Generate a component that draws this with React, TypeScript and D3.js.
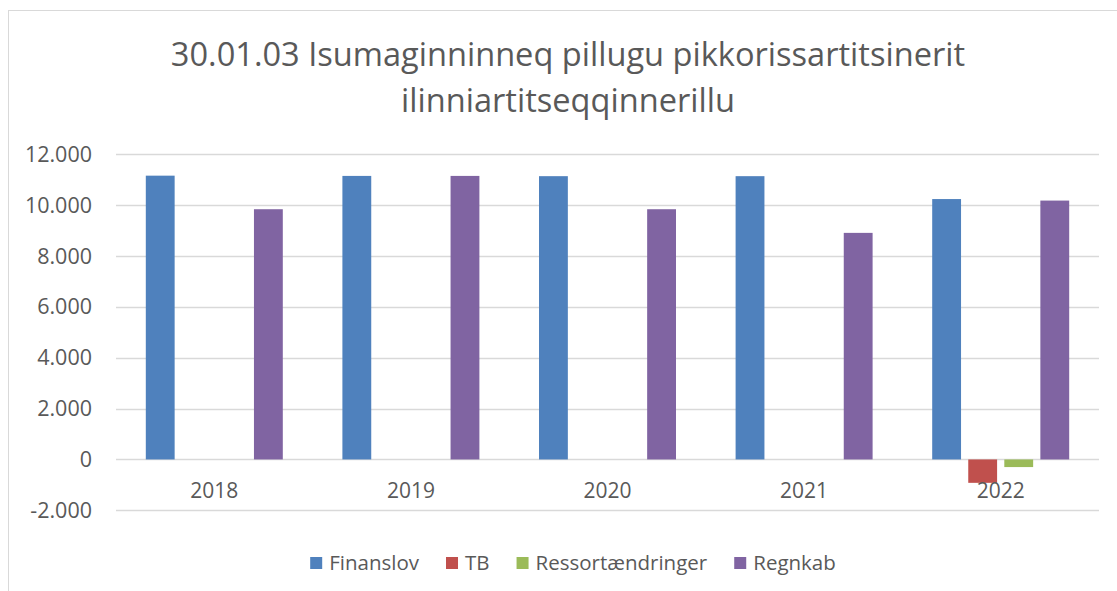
import React, { useEffect, useRef } from "react";
import * as d3 from "d3";

const titleLines = ["30.01.03 Isumaginninneq pillugu pikkorissartitsinerit", "ilinniartitseqqinnerillu"];
const years = ["2018", "2019", "2020", "2021", "2022"];
const seriesNames = ["Finanslov", "TB", "Ressortændringer", "Regnkab"];
const finanslov = [11160, 11150, 11140, 11140, 10240];
const tb = [0, 0, 0, 0, -920];
const ressort = [0, 0, 0, 0, -300];
const regnkab = [9840, 11150, 9840, 8910, 10180];
const seriesColors = ["#4F81BD", "#C0504D", "#9BBB59", "#8064A2"];
const yTicks = [-2000, 0, 2000, 4000, 6000, 8000, 10000, 12000];

const W = 1117;
const H = 591;
const TEXT = "#595959";
const GRID = "#d9d9d9";
const FONT = "'Open Sans', sans-serif";

export default function App() {
  const ref = useRef<SVGSVGElement>(null);

  useEffect(() => {
    const svg = d3.select(ref.current);
    svg.selectAll("*").remove();

    const left = 116, right = 1099, top = 154.3, bottom = 510.3;
    const values = [finanslov, tb, ressort, regnkab];

    const x0 = d3.scaleBand<string>().domain(years).range([left, right]).padding(0);
    const x1 = d3.scaleBand<string>().domain(seriesNames).range([-68.5, 68.5]).paddingInner(0.2).paddingOuter(0);
    const y = d3.scaleLinear().domain([-2000, 12000]).range([bottom, top]);
    const fmt = d3.formatLocale({ decimal: ",", thousands: ".", grouping: [3], currency: ["", ""], minus: "-" }).format(",");

    // chart border
    svg.append("rect").attr("x", 8.5).attr("y", 10.5).attr("width", 1200).attr("height", 700)
      .attr("fill", "white").attr("stroke", GRID).attr("stroke-width", 1);

    // title
    const title = svg.append("text").attr("text-anchor", "middle").attr("fill", TEXT)
      .attr("font-family", FONT).attr("font-size", 32.6);
    titleLines.forEach((l, i) => {
      title.append("tspan").attr("x", 568).attr("y", 66 + i * 46).text(l);
    });

    // gridlines
    svg.append("g").selectAll("line").data(yTicks).join("line")
      .attr("x1", left).attr("x2", right)
      .attr("y1", (d) => Math.round(y(d)) + 0.5).attr("y2", (d) => Math.round(y(d)) + 0.5)
      .attr("stroke", GRID).attr("stroke-width", 1.5);

    // y labels
    svg.append("g").selectAll("text").data(yTicks).join("text")
      .attr("x", 92).attr("y", (d) => y(d)).attr("dy", "0.35em")
      .attr("text-anchor", "end").attr("fill", TEXT).attr("font-family", FONT).attr("font-size", 21.5)
      .text((d) => fmt(d));

    // bars
    const g = svg.append("g");
    years.forEach((yr, i) => {
      const cx = (x0(yr) as number) + x0.bandwidth() / 2;
      seriesNames.forEach((s, j) => {
        const v = values[j][i];
        if (v === 0) return;
        g.append("rect")
          .attr("x", cx + (x1(s) as number))
          .attr("width", x1.bandwidth())
          .attr("y", y(Math.max(0, v)))
          .attr("height", Math.abs(y(v) - y(0)))
          .attr("fill", seriesColors[j]);
      });
    });

    // x labels
    svg.append("g").selectAll("text").data(years).join("text")
      .attr("x", (d) => (x0(d) as number) + x0.bandwidth() / 2)
      .attr("y", 498.3).attr("text-anchor", "middle").attr("fill", TEXT)
      .attr("font-family", FONT).attr("font-size", 21).text((d) => d);

    // legend
    const lg = svg.append("g");
    const items = seriesNames.map((s, j) => {
      const gi = lg.append("g");
      gi.append("rect").attr("width", 12).attr("height", 12).attr("y", 557).attr("fill", seriesColors[j]);
      const t = gi.append("text").attr("x", 19).attr("y", 570).attr("fill", TEXT)
        .attr("font-family", FONT).attr("font-size", 20.5).text(s);
      const w = (t.node() as SVGTextElement).getComputedTextLength();
      return { gi, w: 19 + w };
    });
    const gap = 27;
    const total = items.reduce((a, it) => a + it.w, 0) + gap * (items.length - 1);
    let xx = 573 - total / 2;
    items.forEach((it) => {
      it.gi.attr("transform", `translate(${xx},0)`);
      xx += it.w + gap;
    });
  }, []);

  return (
    <svg ref={ref} width={W} height={H} style={{ position: "absolute", left: 0, top: 0, background: "white" }} />
  );
}
